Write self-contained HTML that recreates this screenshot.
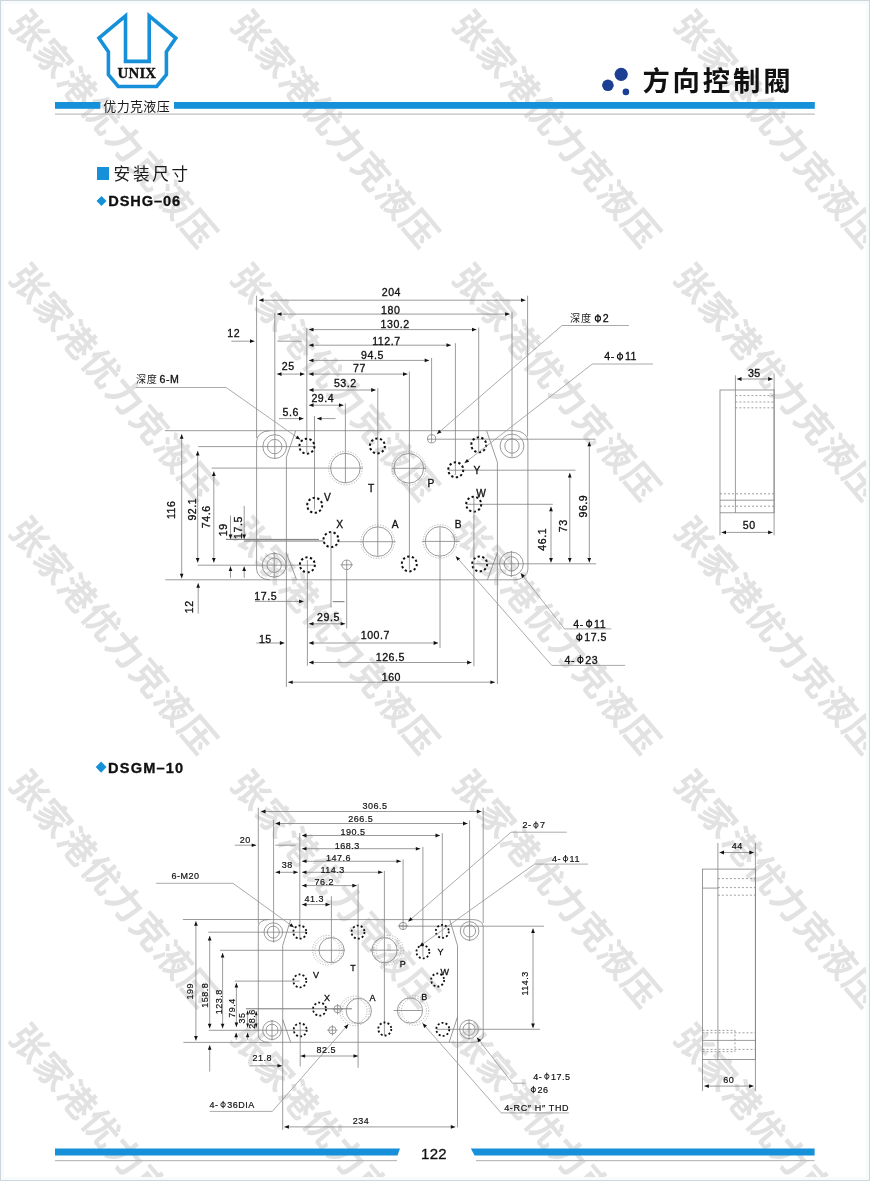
<!DOCTYPE html>
<html lang="zh"><head><meta charset="utf-8"><title>方向控制阀 - 安装尺寸</title>
<style>
html,body{margin:0;padding:0;background:#fff}
body{width:870px;height:1181px;overflow:hidden;font-family:"Liberation Sans",sans-serif}
svg{display:block;will-change:transform;font-family:"Liberation Sans",sans-serif}
</style></head><body>
<svg width="870" height="1181" viewBox="0 0 870 1181">
<defs>
<g id="wm" fill="#e2e2e2"><text x="-18" y="13.7" font-size="36" font-weight="bold" letter-spacing="1.1" style="fill:#e2e2e2;stroke:none;font-family:'Liberation Sans','Noto Sans CJK SC',sans-serif">张家港优力克液压</text></g>
</defs>
<rect width="870" height="1181" fill="#fff"/>
<g><title>张家港优力克液压</title>
<use href="#wm" transform="translate(29.6 29.8) rotate(49.6)"/>
<use href="#wm" transform="translate(251.2 29.8) rotate(49.6)"/>
<use href="#wm" transform="translate(472.8 29.8) rotate(49.6)"/>
<use href="#wm" transform="translate(694.4 29.8) rotate(49.6)"/>
<use href="#wm" transform="translate(29.6 283.1) rotate(49.6)"/>
<use href="#wm" transform="translate(251.2 283.1) rotate(49.6)"/>
<use href="#wm" transform="translate(472.8 283.1) rotate(49.6)"/>
<use href="#wm" transform="translate(694.4 283.1) rotate(49.6)"/>
<use href="#wm" transform="translate(29.6 536.4) rotate(49.6)"/>
<use href="#wm" transform="translate(251.2 536.4) rotate(49.6)"/>
<use href="#wm" transform="translate(472.8 536.4) rotate(49.6)"/>
<use href="#wm" transform="translate(694.4 536.4) rotate(49.6)"/>
<use href="#wm" transform="translate(29.6 789.7) rotate(49.6)"/>
<use href="#wm" transform="translate(251.2 789.7) rotate(49.6)"/>
<use href="#wm" transform="translate(472.8 789.7) rotate(49.6)"/>
<use href="#wm" transform="translate(694.4 789.7) rotate(49.6)"/>
<use href="#wm" transform="translate(29.6 1043) rotate(49.6)"/>
<use href="#wm" transform="translate(251.2 1043) rotate(49.6)"/>
<use href="#wm" transform="translate(472.8 1043) rotate(49.6)"/>
<use href="#wm" transform="translate(694.4 1043) rotate(49.6)"/>
</g>
<rect x="2" y="2" width="866" height="1177" fill="none" stroke="#f7fbfc" stroke-width="4"/><rect x="0.5" y="0.5" width="869" height="1180" fill="none" stroke="#cdd6da" stroke-width="1"/>
<path d="M125.5,15.8 L98.9,38 L108.4,51.8 L108.4,74.6 L118.2,86.5 L156.7,86.5 L166.4,74.6 L166.4,51.8 L175.8,38 L149.2,15.8 L149.2,61.4 L125.5,61.4 Z" fill="none" stroke="#1790da" stroke-width="3.6" stroke-linejoin="miter" stroke-miterlimit="10"/>
<text x="136.9" y="77.8" font-size="14.9" letter-spacing="0.2" text-anchor="middle" font-weight="bold" fill="#111" style="font-family:'Liberation Serif',serif">UNIX</text>
<rect x="55" y="102" width="45.4" height="6.8" fill="#1790da"/>
<rect x="174" y="102" width="640.8" height="6.8" fill="#1790da"/>
<rect x="55" y="113.5" width="759.8" height="1.2" fill="#bcbcbc"/>
<text x="103.3" y="110.7" font-size="13" letter-spacing="0.35" style="fill:#1a1a1a;stroke:none;font-family:'Liberation Sans','Noto Sans CJK SC',sans-serif">优力克液压</text>
<circle cx="621.2" cy="74.3" r="6.6" fill="#1c3f94" stroke="none"/>
<circle cx="607.9" cy="85.3" r="5.8" fill="#1c3f94" stroke="none"/>
<circle cx="625.9" cy="91.9" r="3.3" fill="#1c3f94" stroke="none"/>
<text x="642.4" y="91.2" font-size="27.4" font-weight="bold" letter-spacing="2.8" style="fill:#111;stroke:none;font-family:'Liberation Sans','Noto Sans CJK TC',sans-serif">方向控制閥</text>
<rect x="97" y="167" width="12" height="13" fill="#1790da"/>
<text x="113.6" y="180.3" font-size="16.6" letter-spacing="2.7" style="fill:#1a1a1a;stroke:none;font-family:'Liberation Sans','Noto Sans CJK SC',sans-serif">安装尺寸</text>
<path d="M101.5,196 l5,5 l-5,5 l-5,-5z" fill="#1790da"/>
<text x="108.3" y="206.3" font-size="14.6" letter-spacing="0.9" font-weight="bold" fill="#111">DSHG–06</text>
<path d="M101.1,761.5 l5.4,5.6 l-5.4,5.6 l-5.4,-5.6z" fill="#1790da"/>
<text x="108.1" y="772.8" font-size="14.6" letter-spacing="1.15" font-weight="bold" fill="#111">DSGM–10</text>
<path d="M55,1148.5 H400 L397.5,1155.6 H55Z" fill="#1790da"/>
<path d="M470.8,1148.5 H814.6 V1155.6 H474.6Z" fill="#1790da"/>
<rect x="55" y="1160" width="342" height="1.2" fill="#bcbcbc"/>
<rect x="476" y="1160" width="338.6" height="1.2" fill="#bcbcbc"/>
<text x="421" y="1159" font-size="15" letter-spacing="0.3" fill="#111">122</text>
<g stroke="#828282" stroke-width="0.8" fill="none">
<style>.ah{fill:#111;stroke:none}.dc{stroke:#111;stroke-width:2;stroke-dasharray:2.3 2.41}.dc2{stroke:#111;stroke-width:1.8;stroke-dasharray:1.95 2.13}.lb{stroke-width:0.3}.t2{stroke-width:0.18}.dot{stroke:#a0a0a0;stroke-width:0.8;stroke-dasharray:1.2 1.5}.dl{stroke:#888;stroke-dasharray:2 2}text{fill:#111;stroke:#111;stroke-width:0.32;font-family:"Liberation Sans",sans-serif}</style>
<line x1="256.6" y1="295.7" x2="256.6" y2="438"/>
<line x1="274.8" y1="312.9" x2="274.8" y2="459"/>
<line x1="306.8" y1="328" x2="306.8" y2="452.8"/>
<line x1="314.5" y1="416" x2="314.5" y2="509.7"/>
<line x1="345.4" y1="403.4" x2="345.4" y2="483"/>
<line x1="377.8" y1="388.2" x2="377.8" y2="556.6"/>
<line x1="409.4" y1="371.5" x2="409.4" y2="569.5"/>
<line x1="431.6" y1="357.9" x2="431.6" y2="442.6"/>
<line x1="455.4" y1="343.2" x2="455.4" y2="475"/>
<line x1="478.7" y1="327.5" x2="478.7" y2="452"/>
<line x1="512" y1="311.6" x2="512" y2="457"/>
<line x1="527.6" y1="295.7" x2="527.6" y2="436.5"/>
<line x1="259" y1="300.2" x2="525.5" y2="300.2"/>
<polygon class="ah" points="259,300.2 263.5,298.3 263.5,302.1"/>
<polygon class="ah" points="525.5,300.2 521,302.1 521,298.3"/>
<line x1="277" y1="314.1" x2="509.7" y2="314.1"/>
<polygon class="ah" points="277,314.1 281.5,312.2 281.5,316"/>
<polygon class="ah" points="509.7,314.1 505.2,316 505.2,312.2"/>
<line x1="309" y1="329.6" x2="476.5" y2="329.6"/>
<polygon class="ah" points="309,329.6 313.5,327.8 313.5,331.5"/>
<polygon class="ah" points="476.5,329.6 472,331.5 472,327.8"/>
<line x1="309" y1="345.2" x2="451" y2="345.2"/>
<polygon class="ah" points="309,345.2 313.5,343.3 313.5,347.1"/>
<polygon class="ah" points="451,345.2 446.5,347.1 446.5,343.3"/>
<line x1="309" y1="360.4" x2="429.2" y2="360.4"/>
<polygon class="ah" points="309,360.4 313.5,358.5 313.5,362.2"/>
<polygon class="ah" points="429.2,360.4 424.7,362.2 424.7,358.5"/>
<line x1="309" y1="374.1" x2="407.5" y2="374.1"/>
<polygon class="ah" points="309,374.1 313.5,372.2 313.5,376"/>
<polygon class="ah" points="407.5,374.1 403,376 403,372.2"/>
<line x1="277" y1="374.1" x2="304.5" y2="374.1"/>
<polygon class="ah" points="277,374.1 281.5,372.2 281.5,376"/>
<polygon class="ah" points="304.5,374.1 300,376 300,372.2"/>
<line x1="309" y1="390" x2="375.7" y2="390"/>
<polygon class="ah" points="309,390 313.5,388.1 313.5,391.9"/>
<polygon class="ah" points="375.7,390 371.2,391.9 371.2,388.1"/>
<line x1="309" y1="405.2" x2="343.5" y2="405.2"/>
<polygon class="ah" points="309,405.2 313.5,403.3 313.5,407.1"/>
<polygon class="ah" points="343.5,405.2 339,407.1 339,403.3"/>
<line x1="279" y1="418.6" x2="303.5" y2="418.6"/>
<polygon class="ah" points="303.5,418.6 299,420.5 299,416.8"/>
<line x1="317" y1="418.6" x2="335.5" y2="418.6"/>
<polygon class="ah" points="317,418.6 321.5,416.8 321.5,420.5"/>
<line x1="231.3" y1="341.2" x2="254.5" y2="341.2"/>
<polygon class="ah" points="254.5,341.2 250,343.1 250,339.3"/>
<line x1="277.3" y1="341.2" x2="302" y2="341.2"/>
<path d="M256.6,569.3 V441.2 A13,10.5 0 0 1 269.6,430.7 H514.9 A13,10.5 0 0 1 527.9,441.2 V569.3 A13,10.5 0 0 1 514.9,579.8 H269.6 A13,10.5 0 0 1 256.6,569.3Z"/>
<line x1="165" y1="430.7" x2="270" y2="430.7"/>
<line x1="165.3" y1="579.8" x2="270" y2="579.8"/>
<line x1="198.2" y1="446.6" x2="313.8" y2="446.6"/>
<line x1="197.7" y1="565.2" x2="314.7" y2="565.2"/>
<line x1="211.6" y1="468.1" x2="363" y2="468.1"/>
<line x1="226" y1="539.4" x2="319" y2="539.4" stroke="#777" stroke-width="1.0"/>
<line x1="244" y1="541" x2="323.5" y2="541" stroke="#777" stroke-width="1.0"/>
<line x1="338.5" y1="541.7" x2="395.7" y2="541.7"/>
<line x1="427" y1="439.2" x2="595.3" y2="439.2"/>
<line x1="448.6" y1="470.2" x2="575.5" y2="470.2"/>
<line x1="465.9" y1="504.3" x2="552.8" y2="504.3"/>
<line x1="472.8" y1="563.8" x2="596.2" y2="563.8"/>
<line x1="181.7" y1="434.2" x2="181.7" y2="578.3"/>
<polygon class="ah" points="181.7,434.2 183.5,438.7 179.8,438.7"/>
<polygon class="ah" points="181.7,578.3 179.8,573.8 183.5,573.8"/>
<line x1="197.7" y1="451" x2="197.7" y2="562.6"/>
<polygon class="ah" points="197.7,451 199.5,455.5 195.8,455.5"/>
<polygon class="ah" points="197.7,562.6 195.8,558.1 199.5,558.1"/>
<line x1="213.8" y1="471.5" x2="213.8" y2="562.6"/>
<polygon class="ah" points="213.8,471.5 215.7,476 212,476"/>
<polygon class="ah" points="213.8,562.6 212,558.1 215.7,558.1"/>
<line x1="230.5" y1="515.6" x2="230.5" y2="538.9"/>
<polygon class="ah" points="230.5,538.9 228.7,534.4 232.3,534.4"/>
<line x1="244.2" y1="506" x2="244.2" y2="538.9"/>
<polygon class="ah" points="244.2,538.9 242.3,534.4 246,534.4"/>
<line x1="230.5" y1="566.4" x2="230.5" y2="577.8"/>
<polygon class="ah" points="230.5,566.4 232.3,570.9 228.7,570.9"/>
<line x1="244.2" y1="566.4" x2="244.2" y2="577.8"/>
<polygon class="ah" points="244.2,566.4 246,570.9 242.3,570.9"/>
<line x1="198.2" y1="583.3" x2="198.2" y2="613.7"/>
<polygon class="ah" points="198.2,583.3 200,587.8 196.3,587.8"/>
<line x1="589.3" y1="441.8" x2="589.3" y2="562.4"/>
<polygon class="ah" points="589.3,441.8 591.1,446.3 587.4,446.3"/>
<polygon class="ah" points="589.3,562.4 587.4,557.9 591.1,557.9"/>
<line x1="569.8" y1="473" x2="569.8" y2="562.4"/>
<polygon class="ah" points="569.8,473 571.6,477.5 567.9,477.5"/>
<polygon class="ah" points="569.8,562.4 567.9,557.9 571.6,557.9"/>
<line x1="551" y1="506.8" x2="551" y2="562.4"/>
<polygon class="ah" points="551,506.8 552.9,511.3 549.1,511.3"/>
<polygon class="ah" points="551,562.4 549.1,557.9 552.9,557.9"/>
<polyline points="295.7,430.7 286.4,457.1 286.4,687" fill="none"/>
<polyline points="486.6,430.7 497.4,462.2 497.4,684" fill="none"/>
<line x1="286.4" y1="553.1" x2="296.6" y2="579.8"/>
<line x1="497.6" y1="552.2" x2="487.4" y2="579.8"/>
<circle cx="274.7" cy="446.6" r="11.9"/>
<circle cx="274.7" cy="446.6" r="7.2"/>
<circle cx="512" cy="446" r="11.9"/>
<circle cx="512" cy="446" r="7.2"/>
<circle cx="274.2" cy="565.2" r="11.9"/>
<circle cx="274.2" cy="565.2" r="7.2"/>
<circle cx="511.4" cy="563.9" r="11.9"/>
<circle cx="511.4" cy="563.9" r="7.2"/>
<line x1="274.2" y1="552" x2="274.2" y2="578"/>
<line x1="511.4" y1="551" x2="511.4" y2="577"/>
<circle cx="306.9" cy="446.2" r="7.5" class="dc"/>
<circle cx="377.4" cy="445.9" r="7.5" class="dc"/>
<circle cx="478.8" cy="444.8" r="7.5" class="dc"/>
<circle cx="314.7" cy="505.3" r="7.5" class="dc"/>
<circle cx="331" cy="539.6" r="7.5" class="dc"/>
<circle cx="455.8" cy="469.8" r="7.5" class="dc"/>
<circle cx="473.7" cy="504.2" r="7.5" class="dc"/>
<circle cx="307.4" cy="564.8" r="7.5" class="dc"/>
<circle cx="409.3" cy="563.9" r="7.5" class="dc"/>
<circle cx="479.7" cy="563.9" r="7.5" class="dc"/>
<circle cx="345.4" cy="468.1" r="14.8"/>
<circle cx="345.4" cy="468.1" r="16.8" class="dot"/>
<circle cx="408.8" cy="468.3" r="14.8"/>
<circle cx="408.8" cy="468.3" r="16.8" class="dot"/>
<circle cx="377.7" cy="541.7" r="14.8"/>
<circle cx="377.7" cy="541.7" r="16.8" class="dot"/>
<circle cx="440" cy="541.4" r="14.8"/>
<circle cx="440" cy="541.4" r="16.8" class="dot"/>
<line x1="392" y1="468.3" x2="426" y2="468.3"/>
<line x1="421.9" y1="541.4" x2="459.8" y2="541.4"/>
<circle cx="431.6" cy="438.8" r="4.1"/>
<circle cx="346.7" cy="564.8" r="4.8"/>
<line x1="340.5" y1="564.8" x2="353" y2="564.8"/>
<line x1="307.4" y1="560" x2="307.4" y2="665.8"/>
<line x1="331" y1="531.6" x2="331" y2="607.4"/>
<line x1="346.7" y1="560" x2="346.7" y2="628.3"/>
<line x1="440" y1="527.2" x2="440" y2="648"/>
<line x1="473.9" y1="497.6" x2="473.9" y2="666.3"/>
<line x1="255" y1="601.4" x2="303.6" y2="601.4"/>
<polygon class="ah" points="303.6,601.4 299.1,603.2 299.1,599.5"/>
<line x1="332.8" y1="601.7" x2="344.5" y2="601.7" stroke="#777" stroke-width="1.0"/>
<line x1="309" y1="623.8" x2="345.2" y2="623.8"/>
<polygon class="ah" points="309,623.8 313.5,621.9 313.5,625.6"/>
<polygon class="ah" points="345.2,623.8 340.7,625.6 340.7,621.9"/>
<line x1="256.3" y1="643" x2="284.4" y2="643"/>
<polygon class="ah" points="284.4,643 279.9,644.9 279.9,641.1"/>
<line x1="309" y1="643" x2="438.1" y2="643"/>
<polygon class="ah" points="309,643 313.5,641.1 313.5,644.9"/>
<polygon class="ah" points="438.1,643 433.6,644.9 433.6,641.1"/>
<line x1="309" y1="662.5" x2="471.6" y2="662.5"/>
<polygon class="ah" points="309,662.5 313.5,660.6 313.5,664.4"/>
<polygon class="ah" points="471.6,662.5 467.1,664.4 467.1,660.6"/>
<line x1="288.2" y1="682.2" x2="494.9" y2="682.2"/>
<polygon class="ah" points="288.2,682.2 292.7,680.4 292.7,684.1"/>
<polygon class="ah" points="494.9,682.2 490.4,684.1 490.4,680.4"/>
<polyline points="135.7,387.5 226.2,387.5 300.2,439.6" fill="none" stroke="#969696"/>
<polygon class="ah" points="300.2,439.6 295.5,438.5 297.6,435.5"/>
<polyline points="629,325.5 562,325.5 436.9,434.1" fill="none" stroke="#969696"/>
<polygon class="ah" points="436.9,434.1 439.1,429.8 441.5,432.5"/>
<polyline points="653,364 592.3,364 464.5,463.1" fill="none" stroke="#969696"/>
<polygon class="ah" points="464.5,463.1 466.9,458.9 469.2,461.8"/>
<polyline points="611.3,628.9 564.5,628.9 520.7,573.2" fill="none" stroke="#969696"/>
<polygon class="ah" points="520.7,573.2 524.9,575.6 522,577.9"/>
<polyline points="625.2,665.4 551.8,665.4 455.8,556.2" fill="none" stroke="#969696"/>
<polygon class="ah" points="455.8,556.2 460.2,558.4 457.4,560.8"/>
<rect x="720" y="390" width="54.1" height="122.8"/>
<line x1="735.4" y1="375.3" x2="735.4" y2="512.8"/>
<line x1="774.1" y1="373.6" x2="774.1" y2="535.3"/>
<line x1="720" y1="512.8" x2="720" y2="535.3"/>
<line x1="737" y1="379" x2="772.6" y2="379"/>
<polygon class="ah" points="737,379 741.5,377.1 741.5,380.9"/>
<polygon class="ah" points="772.6,379 768.1,380.9 768.1,377.1"/>
<line x1="721.5" y1="532.4" x2="772.6" y2="532.4"/>
<polygon class="ah" points="721.5,532.4 726,530.5 726,534.2"/>
<polygon class="ah" points="772.6,532.4 768.1,534.2 768.1,530.5"/>
<line x1="735.4" y1="395.6" x2="774.1" y2="395.6" class="dl"/>
<line x1="735.4" y1="402" x2="774.1" y2="402" class="dl"/>
<line x1="735.4" y1="407.8" x2="774.1" y2="407.8" class="dl"/>
<line x1="720" y1="493.8" x2="774.1" y2="493.8" class="dl"/>
<line x1="720" y1="500.2" x2="774.1" y2="500.2"/>
<line x1="720" y1="506.2" x2="774.1" y2="506.2" class="dl"/>
<text x="381.7" y="296.4" font-size="10.6" letter-spacing="0.55">204</text>
<text x="381" y="314.1" font-size="10.6" letter-spacing="0.55">180</text>
<text x="380.5" y="328.2" font-size="10.6" letter-spacing="0.55">130.2</text>
<text x="372.2" y="344.5" font-size="10.6" letter-spacing="0.55">112.7</text>
<text x="361" y="358.9" font-size="10.6" letter-spacing="0.55">94.5</text>
<text x="353.1" y="372.3" font-size="10.6" letter-spacing="0.55">77</text>
<text x="333.9" y="387" font-size="10.6" letter-spacing="0.55">53.2</text>
<text x="311.4" y="401.9" font-size="10.6" letter-spacing="0.55">29.4</text>
<text x="281.8" y="369.8" font-size="10.6" letter-spacing="0.55">25</text>
<text x="282.6" y="415.8" font-size="10.6" letter-spacing="0.55">5.6</text>
<text x="227.3" y="336.9" font-size="10.6" letter-spacing="0.55">12</text>
<text x="254.3" y="600" font-size="10.6" letter-spacing="0.55">17.5</text>
<text x="317" y="620.7" font-size="10.6" letter-spacing="0.55">29.5</text>
<text x="258.9" y="642.6" font-size="10.6" letter-spacing="0.55">15</text>
<text x="360.7" y="639.2" font-size="10.6" letter-spacing="0.55">100.7</text>
<text x="375.7" y="661.2" font-size="10.6" letter-spacing="0.55">126.5</text>
<text x="381.7" y="681.4" font-size="10.6" letter-spacing="0.55">160</text>
<text x="747.9" y="376.7" font-size="10.6" letter-spacing="0.55">35</text>
<text x="742.8" y="529" font-size="10.6" letter-spacing="0.55">50</text>
<g aria-label="4-ϕ11">
<text x="573.3" y="627.5" font-size="10.6" letter-spacing="0.55">4-</text>
<circle cx="589.1" cy="623.7" r="2.6" stroke="#111" stroke-width="1.1"/>
<line x1="589.1" y1="619.2" x2="589.1" y2="627.9" stroke="#111" stroke-width="1.1"/>
<text x="594" y="627.5" font-size="10.6" letter-spacing="0.55">11</text>
</g>
<g aria-label="ϕ17.5">
<circle cx="579.3" cy="637.3" r="2.6" stroke="#111" stroke-width="1.1"/>
<line x1="579.3" y1="632.8" x2="579.3" y2="641.5" stroke="#111" stroke-width="1.1"/>
<text x="584.2" y="641.1" font-size="10.6" letter-spacing="0.55">17.5</text>
</g>
<g aria-label="4-ϕ23">
<text x="564.6" y="663.6" font-size="10.6" letter-spacing="0.55">4-</text>
<circle cx="580.4" cy="659.8" r="2.6" stroke="#111" stroke-width="1.1"/>
<line x1="580.4" y1="655.3" x2="580.4" y2="664" stroke="#111" stroke-width="1.1"/>
<text x="585.3" y="663.6" font-size="10.6" letter-spacing="0.55">23</text>
</g>
<g aria-label="4-ϕ11">
<text x="604.2" y="360.4" font-size="10.6" letter-spacing="0.55">4-</text>
<circle cx="620" cy="356.6" r="2.6" stroke="#111" stroke-width="1.1"/>
<line x1="620" y1="352.1" x2="620" y2="360.8" stroke="#111" stroke-width="1.1"/>
<text x="624.9" y="360.4" font-size="10.6" letter-spacing="0.55">11</text>
</g>
<text x="159.6" y="382.7" font-size="10.6" letter-spacing="0.55">6-M</text>
<g aria-label="ϕ2">
<circle cx="597.9" cy="318.5" r="2.6" stroke="#111" stroke-width="1.1"/>
<line x1="597.9" y1="314" x2="597.9" y2="322.7" stroke="#111" stroke-width="1.1"/>
<text x="602.8" y="322.3" font-size="10.6" letter-spacing="0.55">2</text>
</g>
<text x="175.4" y="519.1" font-size="10.6" letter-spacing="0.55" transform="rotate(-90 175.4 519.1)">116</text>
<text x="195.6" y="520.6" font-size="10.6" letter-spacing="0.55" transform="rotate(-90 195.6 520.6)">92.1</text>
<text x="210.3" y="528.2" font-size="10.6" letter-spacing="0.55" transform="rotate(-90 210.3 528.2)">74.6</text>
<text x="227.2" y="536.3" font-size="10.6" letter-spacing="0.55" transform="rotate(-90 227.2 536.3)">19</text>
<text x="241.9" y="538.9" font-size="10.6" letter-spacing="0.55" transform="rotate(-90 241.9 538.9)">17.5</text>
<text x="192.6" y="613.2" font-size="10.6" letter-spacing="0.55" transform="rotate(-90 192.6 613.2)">12</text>
<text x="545.9" y="550.7" font-size="10.6" letter-spacing="0.55" transform="rotate(-90 545.9 550.7)">46.1</text>
<text x="567.4" y="532.2" font-size="10.6" letter-spacing="0.55" transform="rotate(-90 567.4 532.2)">73</text>
<text x="586.7" y="517.5" font-size="10.6" letter-spacing="0.55" transform="rotate(-90 586.7 517.5)">96.9</text>
<text x="324.1" y="501.4" font-size="10.2">V</text>
<text x="368.1" y="492.4" font-size="10.2">T</text>
<text x="427.6" y="486.9" font-size="10.2">P</text>
<text x="473.6" y="473.8" font-size="10.2">Y</text>
<text x="476.2" y="497.2" font-size="10.2">W</text>
<text x="336.2" y="528.4" font-size="10.2">X</text>
<text x="391.7" y="528.4" font-size="10.2">A</text>
<text x="454.7" y="528.1" font-size="10.2">B</text>
<text x="135.9" y="382.9" font-size="10.1" letter-spacing="0.7" style="fill:#1a1a1a;stroke:none;font-family:'Liberation Sans','Noto Sans CJK SC',sans-serif">深度</text>
<text x="570.1" y="322.3" font-size="10.1" letter-spacing="0.7" style="fill:#1a1a1a;stroke:none;font-family:'Liberation Sans','Noto Sans CJK SC',sans-serif">深度</text>
<line x1="258.3" y1="807.7" x2="258.3" y2="924"/>
<line x1="273.6" y1="819.8" x2="273.6" y2="942.5"/>
<line x1="299.8" y1="833" x2="299.8" y2="938.6"/>
<line x1="331.4" y1="896.2" x2="331.4" y2="962.8"/>
<line x1="358.1" y1="884" x2="358.1" y2="1067.8"/>
<line x1="384.4" y1="870.9" x2="384.4" y2="1035.5"/>
<line x1="403.1" y1="859.5" x2="403.1" y2="929.5"/>
<line x1="422.9" y1="846.9" x2="422.9" y2="956.7"/>
<line x1="442.3" y1="833" x2="442.3" y2="937.8"/>
<line x1="469.6" y1="820.3" x2="469.6" y2="941.2"/>
<line x1="483.2" y1="807.7" x2="483.2" y2="923"/>
<line x1="261" y1="811.5" x2="481.3" y2="811.5"/>
<polygon class="ah" points="261,811.5 265.5,809.6 265.5,813.4"/>
<polygon class="ah" points="481.3,811.5 476.8,813.4 476.8,809.6"/>
<line x1="275.5" y1="823.5" x2="467.5" y2="823.5"/>
<polygon class="ah" points="275.5,823.5 280,821.6 280,825.4"/>
<polygon class="ah" points="467.5,823.5 463,825.4 463,821.6"/>
<line x1="302" y1="835.5" x2="440" y2="835.5"/>
<polygon class="ah" points="302,835.5 306.5,833.6 306.5,837.4"/>
<polygon class="ah" points="440,835.5 435.5,837.4 435.5,833.6"/>
<line x1="302" y1="848.7" x2="420.3" y2="848.7"/>
<polygon class="ah" points="302,848.7 306.5,846.9 306.5,850.6"/>
<polygon class="ah" points="420.3,848.7 415.8,850.6 415.8,846.9"/>
<line x1="302" y1="861.3" x2="401" y2="861.3"/>
<polygon class="ah" points="302,861.3 306.5,859.4 306.5,863.1"/>
<polygon class="ah" points="401,861.3 396.5,863.1 396.5,859.4"/>
<line x1="302" y1="872.3" x2="382.7" y2="872.3"/>
<polygon class="ah" points="302,872.3 306.5,870.4 306.5,874.1"/>
<polygon class="ah" points="382.7,872.3 378.2,874.1 378.2,870.4"/>
<line x1="275.5" y1="872.3" x2="298" y2="872.3"/>
<polygon class="ah" points="275.5,872.3 280,870.4 280,874.1"/>
<polygon class="ah" points="298,872.3 293.5,874.1 293.5,870.4"/>
<line x1="302" y1="885.6" x2="356.8" y2="885.6"/>
<polygon class="ah" points="302,885.6 306.5,883.8 306.5,887.5"/>
<polygon class="ah" points="356.8,885.6 352.3,887.5 352.3,883.8"/>
<line x1="302" y1="904.6" x2="330" y2="904.6"/>
<polygon class="ah" points="302,904.6 306.5,902.8 306.5,906.5"/>
<polygon class="ah" points="330,904.6 325.5,906.5 325.5,902.8"/>
<line x1="234.8" y1="845.2" x2="256.2" y2="845.2"/>
<polygon class="ah" points="256.2,845.2 251.7,847.1 251.7,843.4"/>
<line x1="275.4" y1="845.2" x2="295.6" y2="845.2"/>
<path d="M258.3,1035.6 V926.3 A10,6.7 0 0 1 268.3,919.6 H473.2 A10,6.7 0 0 1 483.2,926.3 V1035.6 A10,6.7 0 0 1 473.2,1042.3 H268.3 A10,6.7 0 0 1 258.3,1035.6Z"/>
<line x1="182.9" y1="919.5" x2="269" y2="919.5"/>
<line x1="183.4" y1="1042.4" x2="269" y2="1042.4"/>
<line x1="208.3" y1="932.2" x2="306.2" y2="932.2"/>
<line x1="220" y1="950.3" x2="345" y2="950.3"/>
<line x1="234.7" y1="981.1" x2="299.8" y2="981.1"/>
<line x1="245.9" y1="1008.8" x2="351.9" y2="1008.8" stroke="#777" stroke-width="1.0"/>
<line x1="208.8" y1="1030.3" x2="306.2" y2="1030.3"/>
<line x1="398.8" y1="926.2" x2="543.9" y2="926.2"/>
<line x1="436.7" y1="1029.3" x2="540" y2="1029.3"/>
<line x1="195.9" y1="921.3" x2="195.9" y2="1040.6"/>
<polygon class="ah" points="195.9,921.3 197.8,925.8 194.1,925.8"/>
<polygon class="ah" points="195.9,1040.6 194.1,1036.1 197.8,1036.1"/>
<line x1="209.7" y1="936" x2="209.7" y2="1028.3"/>
<polygon class="ah" points="209.7,936 211.5,940.5 207.8,940.5"/>
<polygon class="ah" points="209.7,1028.3 207.8,1023.8 211.5,1023.8"/>
<line x1="222.6" y1="953" x2="222.6" y2="1028.3"/>
<polygon class="ah" points="222.6,953 224.4,957.5 220.8,957.5"/>
<polygon class="ah" points="222.6,1028.3 220.8,1023.8 224.4,1023.8"/>
<line x1="236.4" y1="983" x2="236.4" y2="1026.9"/>
<polygon class="ah" points="236.4,983 238.2,987.5 234.6,987.5"/>
<polygon class="ah" points="236.4,1026.9 234.6,1022.4 238.2,1022.4"/>
<line x1="247.6" y1="1010.6" x2="247.6" y2="1027.6"/>
<polygon class="ah" points="247.6,1010.6 249,1014.6 246.2,1014.6"/>
<polygon class="ah" points="247.6,1027.6 246.2,1023.6 249,1023.6"/>
<line x1="256.2" y1="1011.2" x2="256.2" y2="1027.6"/>
<polygon class="ah" points="256.2,1011.2 257.6,1015.2 254.8,1015.2"/>
<polygon class="ah" points="256.2,1027.6 254.8,1023.6 257.6,1023.6"/>
<line x1="236.2" y1="1032.8" x2="236.2" y2="1039.8"/>
<polygon class="ah" points="236.2,1032.8 238,1037.3 234.3,1037.3"/>
<line x1="247.6" y1="1032.8" x2="247.6" y2="1039.8"/>
<polygon class="ah" points="247.6,1032.8 249.4,1037.3 245.8,1037.3"/>
<line x1="209.7" y1="1045.3" x2="209.7" y2="1071.6"/>
<polygon class="ah" points="209.7,1045.3 211.5,1049.8 207.8,1049.8"/>
<line x1="533" y1="928.6" x2="533" y2="1028.1"/>
<polygon class="ah" points="533,928.6 534.9,933.1 531.1,933.1"/>
<polygon class="ah" points="533,1028.1 531.1,1023.6 534.9,1023.6"/>
<polyline points="290.7,919.6 282.7,945.5 282.7,1129.9" fill="none"/>
<polyline points="449.7,919.6 457.5,945.5 457.5,1127.4" fill="none"/>
<line x1="282.7" y1="1019.5" x2="290.7" y2="1042.3"/>
<line x1="457.5" y1="1016.9" x2="449.1" y2="1042.3"/>
<circle cx="273.3" cy="932.1" r="9.3"/>
<circle cx="273.3" cy="932.1" r="6"/>
<circle cx="469.6" cy="931" r="9.3"/>
<circle cx="469.6" cy="931" r="6"/>
<circle cx="272" cy="1030.2" r="9.3"/>
<circle cx="272" cy="1030.2" r="6"/>
<circle cx="469" cy="1029.3" r="9.3"/>
<circle cx="469" cy="1029.3" r="6"/>
<line x1="272" y1="1020" x2="272" y2="1040.5"/>
<line x1="469" y1="1019.5" x2="469" y2="1040"/>
<circle cx="299.8" cy="932.1" r="6.5" class="dc2"/>
<circle cx="358" cy="932.1" r="6.5" class="dc2"/>
<circle cx="442.3" cy="931.4" r="6.5" class="dc2"/>
<circle cx="299.8" cy="980.9" r="6.5" class="dc2"/>
<circle cx="319.5" cy="1009.1" r="6.5" class="dc2"/>
<circle cx="422.9" cy="951.9" r="6.5" class="dc2"/>
<circle cx="437.6" cy="980" r="6.5" class="dc2"/>
<circle cx="300.2" cy="1029.8" r="6.5" class="dc2"/>
<circle cx="384.8" cy="1029" r="6.5" class="dc2"/>
<circle cx="442.8" cy="1029.3" r="6.5" class="dc2"/>
<circle cx="331.6" cy="950.2" r="12.6"/>
<circle cx="327.4" cy="950.2" r="12.5" class="dot"/>
<circle cx="327.4" cy="950.2" r="14.8" class="dot"/>
<circle cx="384.5" cy="950.2" r="12.6"/>
<circle cx="388.5" cy="950.2" r="12.5" class="dot"/>
<circle cx="388.5" cy="950.2" r="14.8" class="dot"/>
<circle cx="358.8" cy="1010.9" r="12.6"/>
<circle cx="354.6" cy="1010.9" r="12.5" class="dot"/>
<circle cx="354.6" cy="1010.9" r="14.8" class="dot"/>
<circle cx="410" cy="1010.5" r="12.6"/>
<circle cx="414" cy="1010.5" r="12.5" class="dot"/>
<circle cx="414" cy="1010.5" r="14.8" class="dot"/>
<line x1="370" y1="950.2" x2="399" y2="950.2"/>
<line x1="393.6" y1="1010.5" x2="422" y2="1010.5"/>
<circle cx="403" cy="926" r="3.7"/>
<line x1="397.8" y1="926" x2="408.2" y2="926"/>
<circle cx="337.6" cy="1009.1" r="3.7"/>
<line x1="332.4" y1="1009.1" x2="342.8" y2="1009.1"/>
<circle cx="332.4" cy="1030.2" r="3.7"/>
<line x1="327.2" y1="1030.2" x2="337.6" y2="1030.2"/>
<line x1="337.6" y1="1004" x2="337.6" y2="1014.5"/>
<line x1="332.4" y1="1025" x2="332.4" y2="1035.5"/>
<line x1="300.2" y1="1023.8" x2="300.2" y2="1066.4"/>
<line x1="249.3" y1="1065.8" x2="282" y2="1065.8"/>
<polygon class="ah" points="282,1065.8 277.5,1067.6 277.5,1064"/>
<line x1="300.6" y1="1056" x2="358" y2="1056"/>
<polygon class="ah" points="300.6,1056 305.1,1054.2 305.1,1057.8"/>
<polygon class="ah" points="358,1056 353.5,1057.8 353.5,1054.2"/>
<line x1="284.4" y1="1126.9" x2="455.3" y2="1126.9"/>
<polygon class="ah" points="284.4,1126.9 288.9,1125.1 288.9,1128.8"/>
<polygon class="ah" points="455.3,1126.9 450.8,1128.8 450.8,1125.1"/>
<polyline points="155.9,883.3 233,883.3 293.9,927.3" fill="none" stroke="#969696"/>
<polygon class="ah" points="293.9,927.3 289.2,926.2 291.3,923.2"/>
<polyline points="566.7,832.2 511,832.2 408.2,921.5" fill="none" stroke="#969696"/>
<polygon class="ah" points="408.2,921.5 410.4,917.2 412.8,919.9"/>
<polyline points="588.2,864.1 534.6,864.1 419.5,946.4" fill="none" stroke="#969696"/>
<polygon class="ah" points="419.5,946.4 422.1,942.3 424.2,945.3"/>
<polyline points="209.6,1111.4 272.3,1111.4 348.4,1024.3" fill="none" stroke="#969696"/>
<polygon class="ah" points="348.4,1024.3 346.8,1028.9 344,1026.5"/>
<polyline points="525.2,1083.2 512.5,1083.2 477,1037.6" fill="none" stroke="#969696"/>
<polygon class="ah" points="477,1037.6 481.2,1040 478.3,1042.3"/>
<polyline points="568.9,1112.9 501.2,1112.9 422.6,1023.3" fill="none" stroke="#969696"/>
<polygon class="ah" points="422.6,1023.3 427,1025.5 424.2,1027.9"/>
<rect x="702.5" y="869.1" width="52.9" height="190.5"/>
<line x1="717.9" y1="843" x2="717.9" y2="1059.6"/>
<line x1="755.4" y1="843" x2="755.4" y2="1090.9"/>
<line x1="702.5" y1="1059.6" x2="702.5" y2="1090.9"/>
<line x1="719.5" y1="852.5" x2="753.8" y2="852.5"/>
<polygon class="ah" points="719.5,852.5 724,850.6 724,854.4"/>
<polygon class="ah" points="753.8,852.5 749.3,854.4 749.3,850.6"/>
<line x1="704.3" y1="1086.1" x2="753.6" y2="1086.1"/>
<polygon class="ah" points="704.3,1086.1 708.8,1084.2 708.8,1087.9"/>
<polygon class="ah" points="753.6,1086.1 749.1,1087.9 749.1,1084.2"/>
<line x1="717.9" y1="878.6" x2="755.4" y2="878.6" class="dl"/>
<line x1="717.9" y1="887.6" x2="755.4" y2="887.6" class="dl"/>
<line x1="717.9" y1="895.2" x2="755.4" y2="895.2" class="dl"/>
<line x1="702.5" y1="888.1" x2="717.9" y2="888.1"/>
<line x1="702.5" y1="1030.4" x2="735" y2="1030.4" class="dl"/>
<line x1="702.5" y1="1032.8" x2="755.4" y2="1032.8" class="dl"/>
<line x1="735" y1="1030.4" x2="735" y2="1051.7" class="dl"/>
<line x1="702.5" y1="1040.4" x2="755.4" y2="1040.4"/>
<line x1="702.5" y1="1049.4" x2="755.4" y2="1049.4" class="dl"/>
<line x1="702.5" y1="1051.7" x2="735" y2="1051.7" class="dl"/>
<text x="362.6" y="809" font-size="9" letter-spacing="0.5" class="t2">306.5</text>
<text x="348.2" y="822.1" font-size="9" letter-spacing="0.5" class="t2">266.5</text>
<text x="340.6" y="834.8" font-size="9" letter-spacing="0.5" class="t2">190.5</text>
<text x="334.8" y="848.6" font-size="9" letter-spacing="0.5" class="t2">168.3</text>
<text x="326" y="860.8" font-size="9" letter-spacing="0.5" class="t2">147.6</text>
<text x="320.4" y="872.7" font-size="9" letter-spacing="0.5" class="t2">114.3</text>
<text x="314.6" y="885.4" font-size="9" letter-spacing="0.5" class="t2">76.2</text>
<text x="304.5" y="901.8" font-size="9" letter-spacing="0.5" class="t2">41.3</text>
<text x="281.7" y="868.4" font-size="9" letter-spacing="0.5" class="t2">38</text>
<text x="239.8" y="843.1" font-size="9" letter-spacing="0.5" class="t2">20</text>
<text x="171.5" y="878.5" font-size="9" letter-spacing="0.5" class="t2">6-M20</text>
<g aria-label="2-ϕ7">
<text x="522.4" y="828.4" font-size="9" letter-spacing="0.5" class="t2">2-</text>
<circle cx="535.9" cy="825.2" r="2.2" stroke="#111" stroke-width="0.9"/>
<line x1="535.9" y1="821.4" x2="535.9" y2="828.8" stroke="#111" stroke-width="0.9"/>
<text x="540" y="828.4" font-size="9" letter-spacing="0.5" class="t2">7</text>
</g>
<g aria-label="4-ϕ11">
<text x="552" y="862" font-size="9" letter-spacing="0.5" class="t2">4-</text>
<circle cx="565.5" cy="858.8" r="2.2" stroke="#111" stroke-width="0.9"/>
<line x1="565.5" y1="855" x2="565.5" y2="862.4" stroke="#111" stroke-width="0.9"/>
<text x="569.6" y="862" font-size="9" letter-spacing="0.5" class="t2">11</text>
</g>
<text x="731.7" y="849" font-size="9" letter-spacing="0.5" class="t2">44</text>
<text x="723.2" y="1083" font-size="9" letter-spacing="0.5" class="t2">60</text>
<text x="252.5" y="1061.3" font-size="9" letter-spacing="0.5" class="t2">21.8</text>
<text x="316.6" y="1053.1" font-size="9" letter-spacing="0.5" class="t2">82.5</text>
<text x="352.7" y="1124.3" font-size="9" letter-spacing="0.5" class="t2">234</text>
<g aria-label="4-ϕ36DIA">
<text x="209.6" y="1107.9" font-size="9" letter-spacing="0.5" class="t2">4-</text>
<circle cx="223.1" cy="1104.7" r="2.2" stroke="#111" stroke-width="0.9"/>
<line x1="223.1" y1="1100.9" x2="223.1" y2="1108.3" stroke="#111" stroke-width="0.9"/>
<text x="227.2" y="1107.9" font-size="9" letter-spacing="0.5" class="t2">36DIA</text>
</g>
<g aria-label="4-ϕ17.5">
<text x="533.3" y="1079.6" font-size="9" letter-spacing="0.5" class="t2">4-</text>
<circle cx="546.8" cy="1076.4" r="2.2" stroke="#111" stroke-width="0.9"/>
<line x1="546.8" y1="1072.6" x2="546.8" y2="1080" stroke="#111" stroke-width="0.9"/>
<text x="550.9" y="1079.6" font-size="9" letter-spacing="0.5" class="t2">17.5</text>
</g>
<g aria-label="ϕ26">
<circle cx="533.4" cy="1089.7" r="2.2" stroke="#111" stroke-width="0.9"/>
<line x1="533.4" y1="1085.9" x2="533.4" y2="1093.3" stroke="#111" stroke-width="0.9"/>
<text x="537.5" y="1092.9" font-size="9" letter-spacing="0.5" class="t2">26</text>
</g>
<text x="504.2" y="1111.4" font-size="9" letter-spacing="0.65" class="t2">4-RC″ H″ THD</text>
<text x="193.3" y="999.5" font-size="9" letter-spacing="0.5" transform="rotate(-90 193.3 999.5)" class="t2">199</text>
<text x="207.6" y="1007.8" font-size="9" letter-spacing="0.5" transform="rotate(-90 207.6 1007.8)" class="t2">158.8</text>
<text x="221.7" y="1014.3" font-size="9" letter-spacing="0.5" transform="rotate(-90 221.7 1014.3)" class="t2">123.8</text>
<text x="235.2" y="1017.8" font-size="9" letter-spacing="0.5" transform="rotate(-90 235.2 1017.8)" class="t2">79.4</text>
<text x="245" y="1023.6" font-size="9" letter-spacing="0.5" transform="rotate(-90 245 1023.6)" class="t2">35</text>
<text x="255.3" y="1028.8" font-size="9" letter-spacing="0.5" transform="rotate(-90 255.3 1028.8)" class="t2">28.6</text>
<text x="527.8" y="995.5" font-size="9" letter-spacing="0.5" transform="rotate(-90 527.8 995.5)" class="t2">114.3</text>
<text x="350.2" y="971.4" font-size="9" class="lb">T</text>
<text x="313.1" y="978.3" font-size="9" class="lb">V</text>
<text x="324" y="1000.6" font-size="9" class="lb">X</text>
<text x="369.5" y="1000.6" font-size="9" class="lb">A</text>
<text x="399.7" y="966.6" font-size="9" class="lb">P</text>
<text x="437.6" y="955.3" font-size="9" class="lb">Y</text>
<text x="440.5" y="975.3" font-size="9" class="lb">W</text>
<text x="421.2" y="999.8" font-size="9" class="lb">B</text>
</g>
</svg>
</body></html>
